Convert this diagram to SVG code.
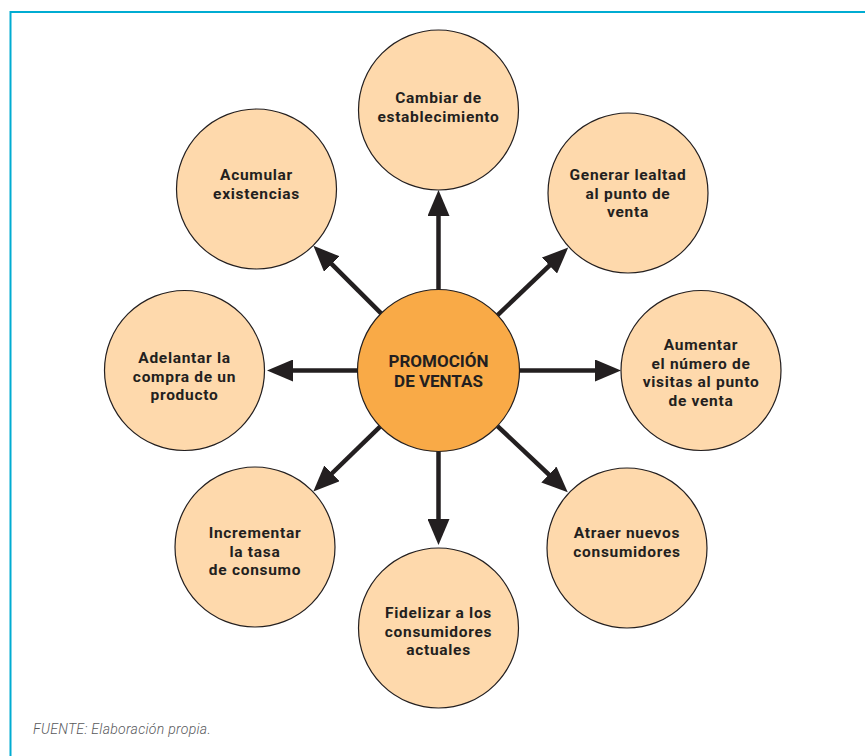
<svg xmlns="http://www.w3.org/2000/svg" width="865" height="756" viewBox="0 0 865 756">
<defs>
<marker id="ah" markerUnits="userSpaceOnUse" viewBox="0 0 26 22" refX="16" refY="11" markerWidth="26" markerHeight="22" orient="auto">
<path d="M0,0 L26,11 L0,22 Z" fill="#231f20"/>
</marker>
<style>
.bg{fill:#ffffff}
.frame{fill:none;stroke:#00acd2;stroke-width:2}
.n circle{fill:#fed9ac;stroke:#231f20;stroke-width:1.2}
.c circle{fill:#f9aa47;stroke:#231f20;stroke-width:1.2}
text{font-family:Roboto,"Liberation Sans",sans-serif;font-weight:700;fill:#231f20;text-anchor:middle}
.n text{font-size:15.5px;letter-spacing:0.7px}
.c text{font-size:17px}
.edge line{stroke:#231f20;stroke-width:4.5;marker-end:url(#ah)}
.src{font-size:14px;letter-spacing:0.3px;font-style:italic;font-weight:300;fill:#58595b;text-anchor:start}
</style>
</defs>
<rect class="bg" width="865" height="756"/>
<path class="frame" d="M10.5,756 V12 H865"/>

<g id="n-top" class="n">
<circle cx="438.5" cy="110" r="80"/>
<text x="438.5" y="103">Cambiar de</text>
<text x="438.5" y="121.5">establecimiento</text>
</g>
<g id="n-topright" class="n">
<circle cx="628" cy="193" r="80"/>
<text x="628" y="180">Generar lealtad</text>
<text x="628" y="198.5">al punto de</text>
<text x="628" y="217">venta</text>
</g>
<g id="n-right" class="n">
<circle cx="701" cy="370.5" r="80"/>
<text x="701" y="350">Aumentar</text>
<text x="701" y="368.5">el número de</text>
<text x="701" y="387">visitas al punto</text>
<text x="701" y="405.5">de venta</text>
</g>
<g id="n-bottomright" class="n">
<circle cx="627" cy="548" r="80"/>
<text x="627" y="538">Atraer nuevos</text>
<text x="627" y="556.5">consumidores</text>
</g>
<g id="n-bottom" class="n">
<circle cx="438.5" cy="628" r="80"/>
<text x="438.5" y="618">Fidelizar a los</text>
<text x="438.5" y="636.5">consumidores</text>
<text x="438.5" y="655">actuales</text>
</g>
<g id="n-bottomleft" class="n">
<circle cx="255" cy="547" r="80"/>
<text x="255" y="538">Incrementar</text>
<text x="255" y="556.5">la tasa</text>
<text x="255" y="575">de consumo</text>
</g>
<g id="n-left" class="n">
<circle cx="184.5" cy="370.5" r="80"/>
<text x="184.5" y="363">Adelantar la</text>
<text x="184.5" y="381.5">compra de un</text>
<text x="184.5" y="400">producto</text>
</g>
<g id="n-topleft" class="n">
<circle cx="256.5" cy="189" r="80"/>
<text x="256.5" y="180">Acumular</text>
<text x="256.5" y="198.5">existencias</text>
</g>

<g id="n-center" class="c">
<circle cx="438.5" cy="370.5" r="81"/>
<text x="438.5" y="367">PROMOCIÓN</text>
<text x="438.5" y="386.5">DE VENTAS</text>
</g>

<g id="connectors" class="edge">
<line x1="438.5" y1="289.5" x2="438.5" y2="200"/>
<line x1="497.6" y1="315.1" x2="561" y2="254.5"/>
<line x1="519.5" y1="370.5" x2="611" y2="370.5"/>
<line x1="497.5" y1="426.1" x2="560.5" y2="485.5"/>
<line x1="438.5" y1="451.5" x2="438.5" y2="535"/>
<line x1="380.1" y1="426.6" x2="320.5" y2="484.5"/>
<line x1="357.5" y1="370.5" x2="277" y2="370.5"/>
<line x1="381.1" y1="313.3" x2="320.5" y2="252.8"/>
</g>

<text class="src" x="33" y="734">FUENTE: Elaboración propia.</text>
</svg>
